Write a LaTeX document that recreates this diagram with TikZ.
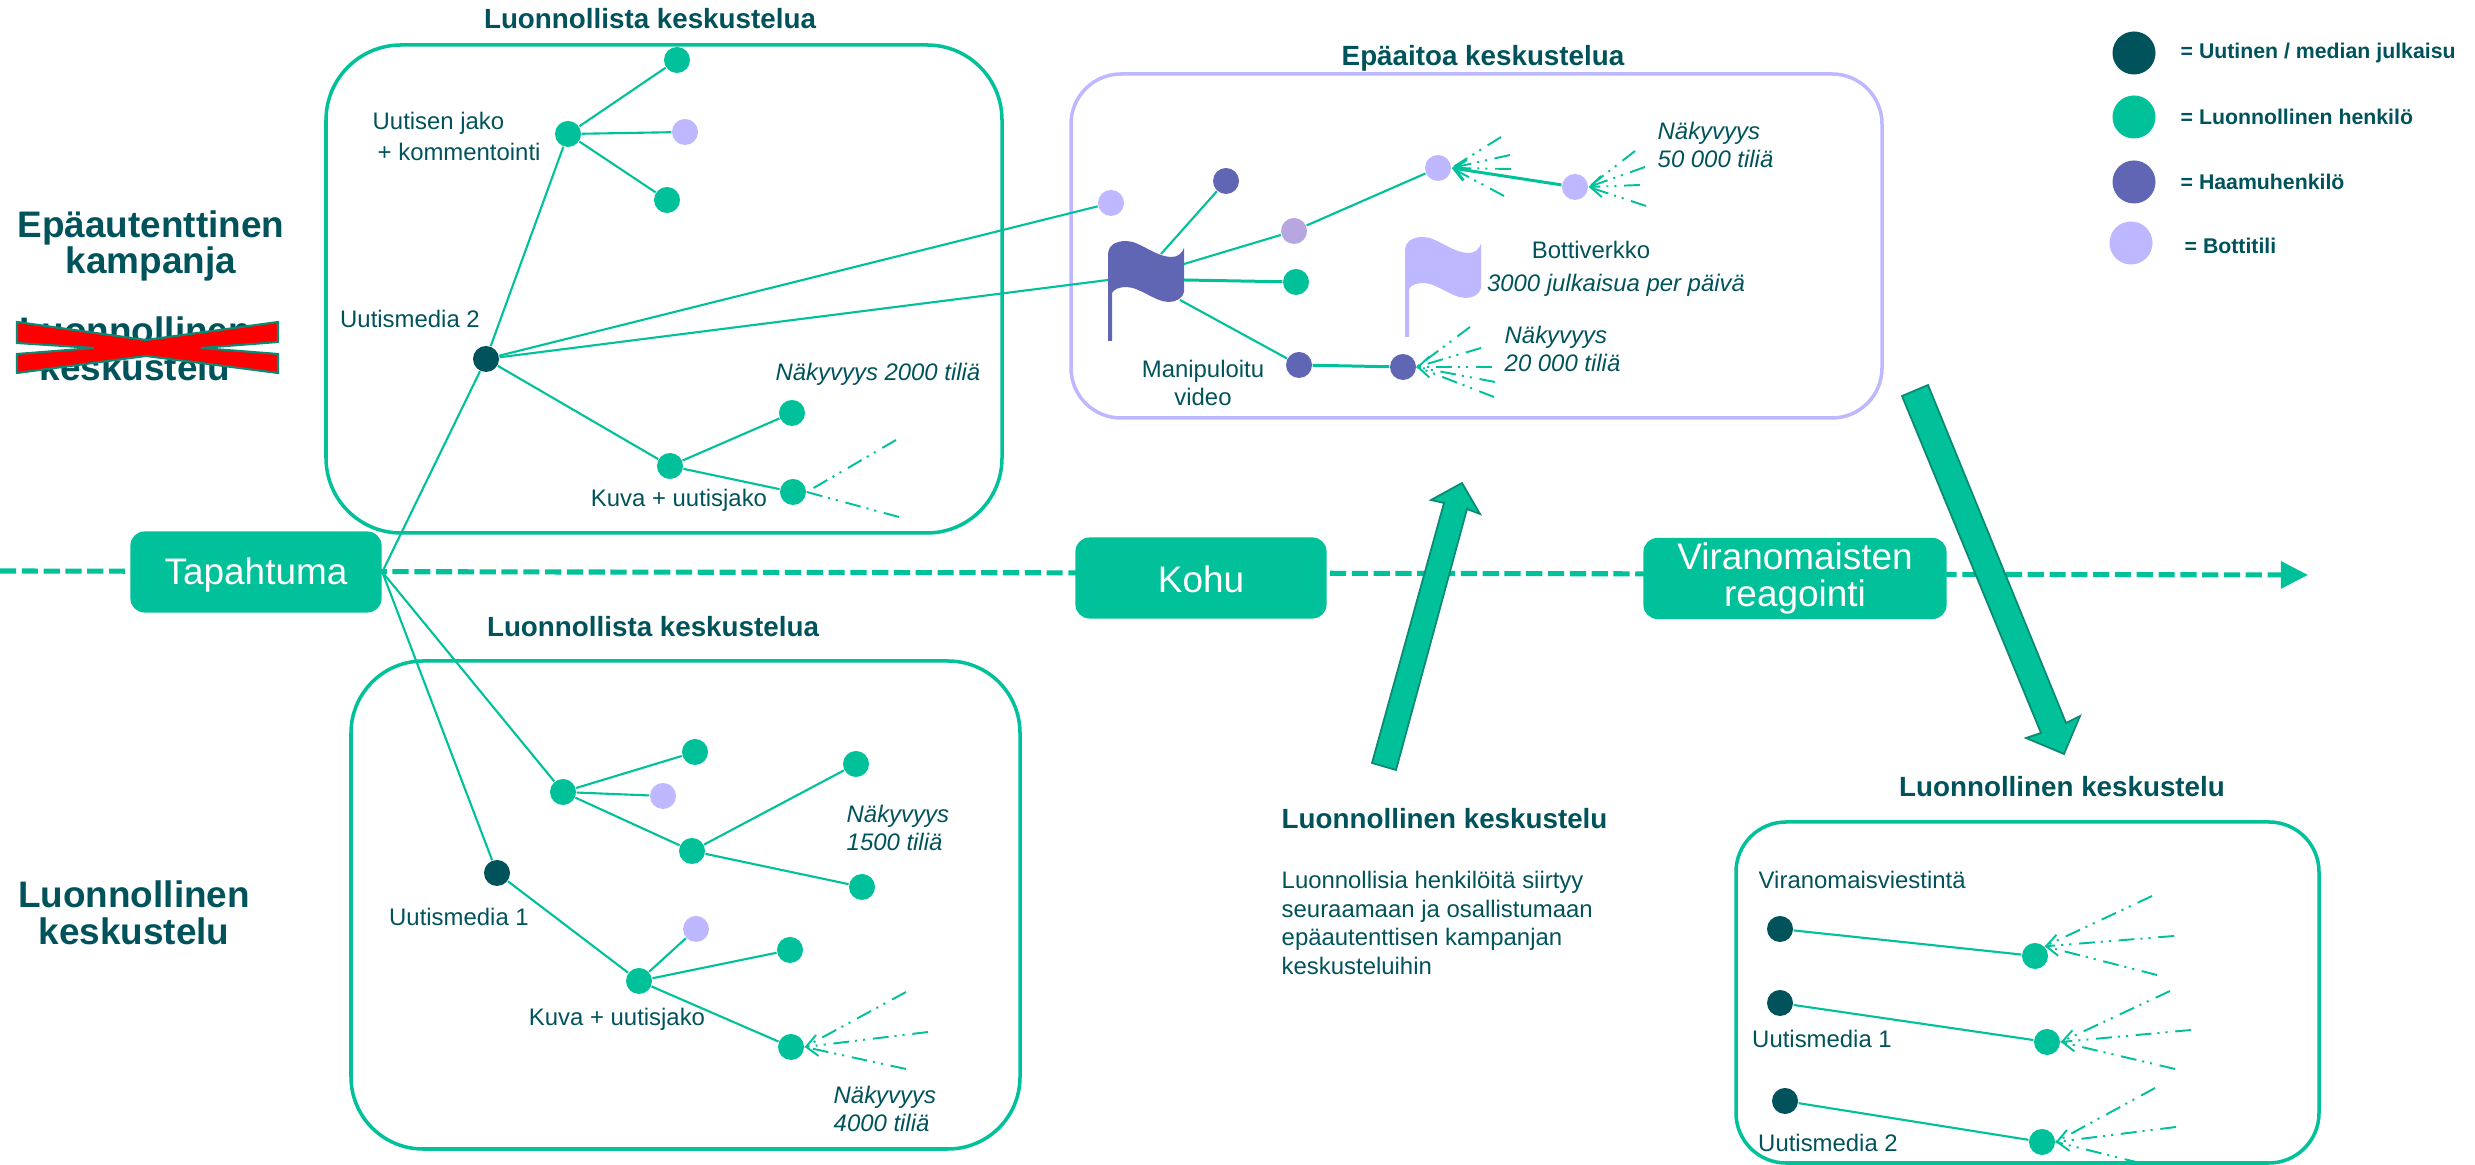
\documentclass[tikz,border=0pt]{standalone}
\usepackage{fontspec}
\setmainfont{Liberation Sans}
\usetikzlibrary{arrows.meta}
\definecolor{leaf}{HTML}{00C19A}
\definecolor{leafedge}{HTML}{0A8A72}
\definecolor{ink}{HTML}{00535A}
\definecolor{ghost}{HTML}{6066B3}
\definecolor{bot}{HTML}{BDB8FF}
\definecolor{mauve}{HTML}{B8A6E0}
\tikzset{
    bubble/.style={circle, inner sep=0, minimum size=0.26cm},
    keysize/.style={minimum size=0.43cm},
    link/.style={color=leaf, line width=0.6pt},
    boldlink/.style={color=leaf, line width=0.85pt},
    fan/.style={color=leaf, line width=0.55pt, >={Straight Barb[length=3.2pt, width=6pt]},
        dash pattern=on 4.5pt off 2.2pt on 0.6pt off 1.7pt on 0.6pt off 1.7pt},
    frame/.style={color=leaf, line width=1pt},
    bigarrow/.style={fill=leaf, draw=leafedge, line width=0.5pt, line join=miter},
    lbl/.style={color=ink, inner sep=0, font=\fontsize{6.8}{8.2}\selectfont},
    seen/.style={lbl, font=\fontsize{6.8}{8.2}\selectfont\itshape},
    boxtitle/.style={color=ink, inner sep=0, font=\fontsize{7.9}{9.5}\selectfont\bfseries},
    keytext/.style={color=ink, inner sep=0, anchor=west, font=\fontsize{6.05}{7.5}\selectfont\bfseries},
    bigtext/.style={color=ink, inner sep=0, align=center, font=\fontsize{10.5}{10.5}\selectfont\bfseries},
    eventbox/.style={fill=leaf, text=white, rounded corners=0.14cm, minimum height=0.81cm,
        align=center, inner sep=0, font=\fontsize{10.5}{10.5}\selectfont}
}
\begin{document}
\begin{tikzpicture}[x=0.01cm, y=-0.01cm]
    \useasboundingbox (0,0) rectangle (2475,1165);
    \coordinate (linestart) at (0,571);
    \coordinate (lineend) at (2308,575);
    \draw [color=leaf, line width=1.45pt, dash pattern=on 4.6pt off 1.6pt, -{Triangle[length=7.7pt, width=7.5pt]}] (linestart) -- (lineend);
    \draw [frame, rounded corners=0.75cm] (326,45) rectangle (1002,533);
    \draw [frame, rounded corners=0.72cm] (351,661) rectangle (1020,1149);
    \draw [frame, rounded corners=0.5cm] (1736,822) rectangle (2319,1163);
    \draw [color=bot, line width=1pt, rounded corners=0.5cm] (1071,74) rectangle (1882,418);
    \node (eventa) at (256,572) [eventbox, minimum width=2.51cm, text height=0.32cm] {Tapahtuma};
    \node (eventb) at (1201,578) [eventbox, minimum width=2.51cm, text height=0.29cm] {Kohu};
    \node (eventc) at (1795,578.5) [eventbox, minimum width=3.03cm] {Viranomaisten\\reagointi};
    \node (titlea) at (650,19) [boxtitle] {Luonnollista keskustelua};
    \node (titleb) at (653,627) [boxtitle] {Luonnollista keskustelua};
    \node (titlec) at (1483,58) [boxtitle] {Epäaitoa keskustelua};
    \node (titled) at (2062,787) [boxtitle] {Luonnollinen keskustelu};
    \node (titlee) at (1281,819) [boxtitle, anchor=west] {Luonnollinen keskustelu};
    \node (bodytext) at (1281,923) [lbl, anchor=west, align=left] {Luonnollisia henkilöitä siirtyy\\seuraamaan ja osallistumaan\\epäautenttisen kampanjan\\keskusteluihin};
    \node (fakecamp) at (151,246) [bigtext] {Epäautenttinen\\kampanja};
    \node (realtalka) at (135,349) [bigtext] {Luonnollinen\\keskustelu};
    \node (realtalkb) at (134,913) [bigtext] {Luonnollinen\\keskustelu};
    \draw [fill=red, draw=leafedge, line width=0.6pt] (17,322) -- (146,340) -- (278,322) -- (278,342) -- (201,348) -- (278,354) -- (278,373) -- (146,356) -- (17,373) -- (17,354) -- (94,348) -- (17,343) -- cycle;

    \node (keya) at (2134,53) [bubble, keysize, fill=ink] {};
    \node (keyb) at (2134,117) [bubble, keysize, fill=leaf] {};
    \node (keyc) at (2134,182) [bubble, keysize, fill=ghost] {};
    \node (keyd) at (2131,243) [bubble, keysize, fill=bot] {};
    \node (keytexta) at (2180,53) [keytext] {= Uutinen / median julkaisu};
    \node (keytextb) at (2180,117) [keytext] {= Luonnollinen henkilö};
    \node (keytextc) at (2180,182) [keytext] {= Haamuhenkilö};
    \node (keytextd) at (2184,246) [keytext] {= Bottitili};

    \node (mediab) at (486,359) [bubble, fill=ink] {};
    \node (sharea) at (568,134) [bubble, fill=leaf] {};
    \node (shareaa) at (677,60) [bubble, fill=leaf] {};
    \node (shareab) at (685,132) [bubble, fill=bot] {};
    \node (shareac) at (667,200) [bubble, fill=leaf] {};
    \node (pica) at (670,466) [bubble, fill=leaf] {};
    \node (picaa) at (792,413) [bubble, fill=leaf] {};
    \node (picab) at (793,492) [bubble, fill=leaf] {};
    \coordinate (picaba) at (896,440);
    \coordinate (picabb) at (899,517);
    \draw [link] (eventa.east) -- (mediab);
    \draw [link] (mediab) -- (sharea);
    \draw [link] (sharea) -- (shareaa);
    \draw [link] (sharea) -- (shareab);
    \draw [link] (sharea) -- (shareac);
    \draw [link] (mediab) -- (pica);
    \draw [link] (pica) -- (picaa);
    \draw [link] (pica) -- (picab);
    \draw [fan] (picaba) -- (picab.east);
    \draw [fan] (picabb) -- (picab.east);
    \node (labela) at (372,123) [lbl, anchor=west] {Uutisen jako};
    \node (labelb) at (377,152) [lbl, anchor=west] {+ kommentointi};
    \node (labelc) at (410,319) [lbl] {Uutismedia 2};
    \node (labeld) at (679,500) [lbl] {Kuva + uutisjako};
    \node (labele) at (878,374) [seen] {Näkyvyys 2000 tiliä};

    \node (rootb) at (563,792) [bubble, fill=leaf] {};
    \node (rootba) at (695,752) [bubble, fill=leaf] {};
    \node (rootbb) at (663,796) [bubble, fill=bot] {};
    \node (rootbc) at (692,851) [bubble, fill=leaf] {};
    \node (rootbca) at (856,764) [bubble, fill=leaf] {};
    \node (rootbcb) at (862,887) [bubble, fill=leaf] {};
    \node (mediaa) at (497,873) [bubble, fill=ink] {};
    \node (picb) at (639,981) [bubble, fill=leaf] {};
    \node (picba) at (696,929) [bubble, fill=bot] {};
    \node (picbb) at (790,950) [bubble, fill=leaf] {};
    \node (picbc) at (791,1047) [bubble, fill=leaf] {};
    \coordinate (picbca) at (906,992);
    \coordinate (picbcb) at (928,1032);
    \coordinate (picbcc) at (906,1069);
    \draw [link] (eventa.east) -- (rootb);
    \draw [link] (eventa.east) -- (mediaa);
    \draw [link] (rootb) -- (rootba);
    \draw [link] (rootb) -- (rootbb);
    \draw [link] (rootb) -- (rootbc);
    \draw [link] (rootbc) -- (rootbca);
    \draw [link] (rootbc) -- (rootbcb);
    \draw [link] (mediaa) -- (picb);
    \draw [link] (picb) -- (picba);
    \draw [link] (picb) -- (picbb);
    \draw [link] (picb) -- (picbc);
    \draw [fan] (picbca) -- (picbc.east);
    \draw [fan, ->] (picbcb) -- (picbc.east);
    \draw [fan] (picbcc) -- (picbc.east);
    \node (labelf) at (846,828) [seen, anchor=west, align=left] {Näkyvyys\\1500 tiliä};
    \node (labelg) at (459,917) [lbl] {Uutismedia 1};
    \node (labelh) at (617,1019) [lbl] {Kuva + uutisjako};
    \node (labeli) at (833,1109) [seen, anchor=west, align=left] {Näkyvyys\\4000 tiliä};

    \fill [color=ghost] (1108,341) -- (1108,255) .. controls (1108,245) and (1116,241) .. (1126,241) .. controls (1140,241) and (1155,257) .. (1172,257) .. controls (1178,257) and (1182,253) .. (1184,248) -- (1184,292) .. controls (1183,298) and (1176,302) .. (1169,302) .. controls (1155,302) and (1140,287) .. (1126,287) .. controls (1120,287) and (1114,289) .. (1112,293) -- (1112,341) -- cycle;
    \fill [color=bot] (1405,337) -- (1405,251) .. controls (1405,241) and (1413,237) .. (1423,237) .. controls (1437,237) and (1452,253) .. (1469,253) .. controls (1475,253) and (1479,249) .. (1481,244) -- (1481,288) .. controls (1480,294) and (1473,298) .. (1466,298) .. controls (1452,298) and (1437,283) .. (1423,283) .. controls (1417,283) and (1411,285) .. (1409,289) -- (1409,337) -- cycle;
    \coordinate (flagw) at (1108,280);
    \coordinate (flagq) at (1161,254);
    \coordinate (flagr) at (1184,264);
    \coordinate (flagu) at (1184,280);
    \coordinate (flagv) at (1180,300);
    \node (fakea) at (1111,203) [bubble, fill=bot] {};
    \node (fakeb) at (1226,181) [bubble, fill=ghost] {};
    \node (fakec) at (1294,231) [bubble, fill=mauve] {};
    \node (faked) at (1438,168) [bubble, fill=bot] {};
    \node (fakee) at (1575,187) [bubble, fill=bot] {};
    \node (fakef) at (1296,282) [bubble, fill=leaf] {};
    \node (fakeg) at (1299,365) [bubble, fill=ghost] {};
    \node (fakeh) at (1403,367) [bubble, fill=ghost] {};
    \draw [link] (mediab) -- (fakea);
    \draw [link] (mediab) -- (flagw);
    \draw [link] (flagq) -- (fakeb);
    \draw [link] (flagr) -- (fakec);
    \draw [link] (fakec) -- (faked);
    \draw [boldlink] (flagu) -- (fakef);
    \draw [link] (flagv) -- (fakeg);
    \draw [boldlink] (fakeg) -- (fakeh);
    \draw [boldlink, >={Straight Barb[length=3.2pt, width=6pt]}, ->] (fakee) -- (faked.east);
    \coordinate (fandaa) at (1501,137);
    \coordinate (fandab) at (1510,155);
    \coordinate (fandac) at (1511,169);
    \coordinate (fandad) at (1504,196);
    \coordinate (fanea) at (1635,151);
    \coordinate (faneb) at (1645,167);
    \coordinate (fanec) at (1640,185);
    \coordinate (faned) at (1646,206);
    \coordinate (fanha) at (1470,327);
    \coordinate (fanhb) at (1481,348);
    \coordinate (fanhc) at (1492,367);
    \coordinate (fanhd) at (1495,382);
    \coordinate (fanhe) at (1494,397);
    \draw [fan] (fandaa) -- (faked.east);
    \draw [fan] (fandab) -- (faked.east);
    \draw [fan] (fandac) -- (faked.east);
    \draw [fan] (fandad) -- (faked.east);
    \draw [fan] (fanea) -- (fakee.east);
    \draw [fan] (faneb) -- (fakee.east);
    \draw [fan, ->] (fanec) -- (fakee.east);
    \draw [fan] (faned) -- (fakee.east);
    \draw [fan] (fanha) -- (fakeh.east);
    \draw [fan] (fanhb) -- (fakeh.east);
    \draw [fan, ->] (fanhc) -- (fakeh.east);
    \draw [fan] (fanhd) -- (fakeh.east);
    \draw [fan] (fanhe) -- (fakeh.east);
    \node (labelj) at (1657,145) [seen, anchor=west, align=left] {Näkyvyys\\50 000 tiliä};
    \node (labelk) at (1504,349) [seen, anchor=west, align=left] {Näkyvyys\\20 000 tiliä};
    \node (labell) at (1591,250) [lbl] {Bottiverkko};
    \node (labelm) at (1616,285) [seen] {3000 julkaisua per päivä};
    \node (labeln) at (1203,383) [lbl, align=center] {Manipuloitu\\video};

    \node (officea) at (1780,929) [bubble, fill=ink] {};
    \node (officeb) at (2035,956) [bubble, fill=leaf] {};
    \node (officec) at (1780,1003) [bubble, fill=ink] {};
    \node (officed) at (2047,1042) [bubble, fill=leaf] {};
    \node (officee) at (1785,1101) [bubble, fill=ink] {};
    \node (officef) at (2042,1142) [bubble, fill=leaf] {};
    \coordinate (fanba) at (2152,896);
    \coordinate (fanbb) at (2174,936);
    \coordinate (fanbc) at (2157,975);
    \coordinate (fanda) at (2170,991);
    \coordinate (fandb) at (2191,1030);
    \coordinate (fandc) at (2175,1069);
    \coordinate (fanfa) at (2155,1088);
    \coordinate (fanfb) at (2176,1127);
    \coordinate (fanfc) at (2140,1163);
    \draw [link] (officea) -- (officeb);
    \draw [link] (officec) -- (officed);
    \draw [link] (officee) -- (officef);
    \draw [fan] (fanba) -- (officeb.north east);
    \draw [fan, ->] (fanbb) -- (officeb.north east);
    \draw [fan] (fanbc) -- (officeb.north east);
    \draw [fan] (fanda) -- (officed.east);
    \draw [fan, ->] (fandb) -- (officed.east);
    \draw [fan] (fandc) -- (officed.east);
    \draw [fan] (fanfa) -- (officef.east);
    \draw [fan, ->] (fanfb) -- (officef.east);
    \draw [fan] (fanfc) -- (officef.east);
    \node (labelo) at (1758,880) [lbl, anchor=west] {Viranomaisviestintä};
    \node (labelp) at (1822,1039) [lbl] {Uutismedia 1};
    \node (labelq) at (1828,1143) [lbl] {Uutismedia 2};

    \draw [bigarrow] (1372,763) -- (1396,770) -- (1467,509) -- (1480,514) -- (1462,483) -- (1431,500) -- (1444,503) -- cycle;
    \draw [bigarrow] (1902,396) -- (1928,385) -- (2066,723) -- (2080,716) -- (2064,754) -- (2026,738) -- (2041,733) -- cycle;
\end{tikzpicture}
\end{document}
